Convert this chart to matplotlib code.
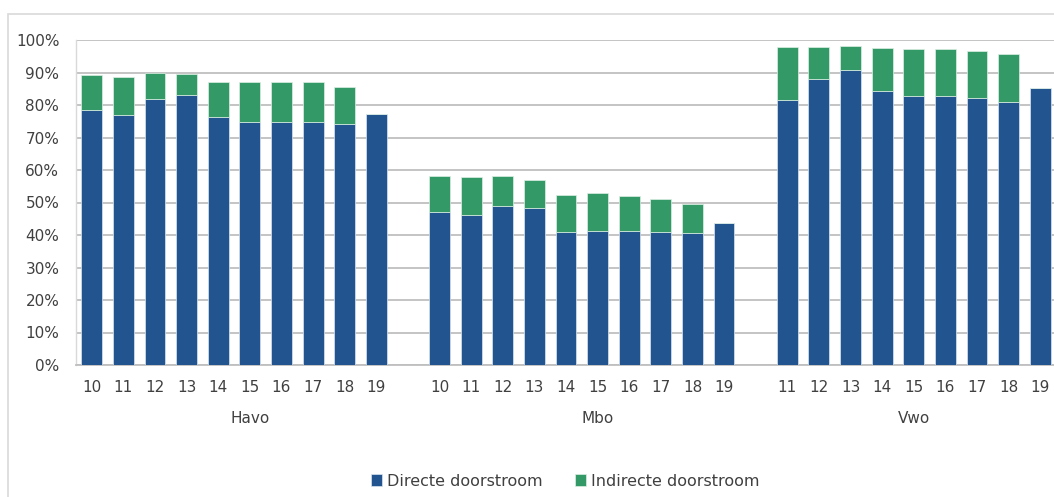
import matplotlib
matplotlib.use("Agg")
import matplotlib.pyplot as plt
from matplotlib.patches import Rectangle
from matplotlib.ticker import PercentFormatter, MultipleLocator

groups = ["Havo", "Mbo", "Vwo"]
havo_years = ["10", "11", "12", "13", "14", "15", "16", "17", "18", "19"]
mbo_years = ["10", "11", "12", "13", "14", "15", "16", "17", "18", "19"]
vwo_years = ["11", "12", "13", "14", "15", "16", "17", "18", "19"]

havo_direct = [78.6, 77.0, 81.9, 83.2, 76.2, 74.9, 74.9, 74.9, 74.3, 77.1]
havo_total = [89.1, 88.7, 89.9, 89.6, 87.1, 87.0, 87.0, 87.1, 85.5, 77.1]
mbo_direct = [47.2, 46.3, 48.9, 48.4, 41.0, 41.3, 41.2, 40.8, 40.5, 43.8]
mbo_total = [58.2, 57.8, 58.1, 57.0, 52.4, 52.9, 52.0, 51.2, 49.4, 43.8]
vwo_direct = [81.6, 88.1, 90.8, 84.2, 82.9, 82.9, 82.3, 81.0, 85.3]
vwo_total = [97.7, 97.9, 98.2, 97.4, 97.3, 97.2, 96.7, 95.7, 85.3]

blue = "#22558F"
green = "#339966"

W, H = 1054, 497
fig = plt.figure(figsize=(W / 100, H / 100), dpi=100)
plt.rcParams["font.family"] = ["DejaVu Sans"]

# chart frame
fig.patches.append(Rectangle((8 / W, -0.1), 1.2, (H - 14) / H + 0.1,
                             transform=fig.transFigure, fill=False,
                             edgecolor="#D9D9D9", linewidth=1.2))

ax = fig.add_axes([76 / W, (H - 365) / H, 980 / W, 325 / H])

years_all = [havo_years, mbo_years, vwo_years]
direct_all = [havo_direct, mbo_direct, vwo_direct]
total_all = [havo_total, mbo_total, vwo_total]

positions, labels, direct, indirect = [], [], [], []
group_centers = []
pos = 0
for gi, (yrs, d, t) in enumerate(zip(years_all, direct_all, total_all)):
    start = pos
    for y, dv, tv in zip(yrs, d, t):
        positions.append(pos)
        labels.append(y)
        direct.append(dv)
        indirect.append(tv - dv)
        pos += 1
    if gi < len(years_all) - 1:
        pos += 1  # blank category
    group_centers.append((start + pos - 1) / 2)

ax.bar(positions, direct, width=0.66, color=blue, edgecolor="#DCE6F0",
       linewidth=0.5, zorder=3, label="Directe doorstroom")
ax.bar(positions, indirect, bottom=direct, width=0.66, color=green,
       edgecolor="#DCEFE4", linewidth=0.5, zorder=3, label="Indirecte doorstroom")

ax.set_xlim(-0.5, pos - 0.5 + 0.0)
ax.set_ylim(0, 100)
ax.yaxis.set_major_locator(MultipleLocator(10))
ax.yaxis.set_major_formatter(PercentFormatter(decimals=0))
ax.grid(axis="y", color="#BFBFBF", linewidth=1.3, zorder=0)
ax.set_xticks(positions)
ax.set_xticklabels(labels)
ax.tick_params(axis="x", length=0, pad=11, labelsize=11, labelcolor="#404040")
ax.tick_params(axis="y", length=0, pad=12, labelsize=11, labelcolor="#404040")
for s in ["top", "right"]:
    ax.spines[s].set_visible(False)
ax.spines["left"].set_color("#D9D9D9")
ax.spines["left"].set_linewidth(1.0)
ax.spines["bottom"].set_color("#BFBFBF")
ax.spines["bottom"].set_linewidth(1.3)

for g, c in zip(groups, group_centers):
    ax.text(c, -16.5, g, ha="center", va="center", fontsize=11,
            color="#404040", transform=ax.transData, clip_on=False)

fig.legend(loc="center", bbox_to_anchor=(565 / W, 16 / H), ncol=2,
           frameon=False, fontsize=11.5, handlelength=0.7, handleheight=0.7,
           handletextpad=0.3, columnspacing=2.0, labelcolor="#404040")

fig.savefig("out.png", dpi=100)
